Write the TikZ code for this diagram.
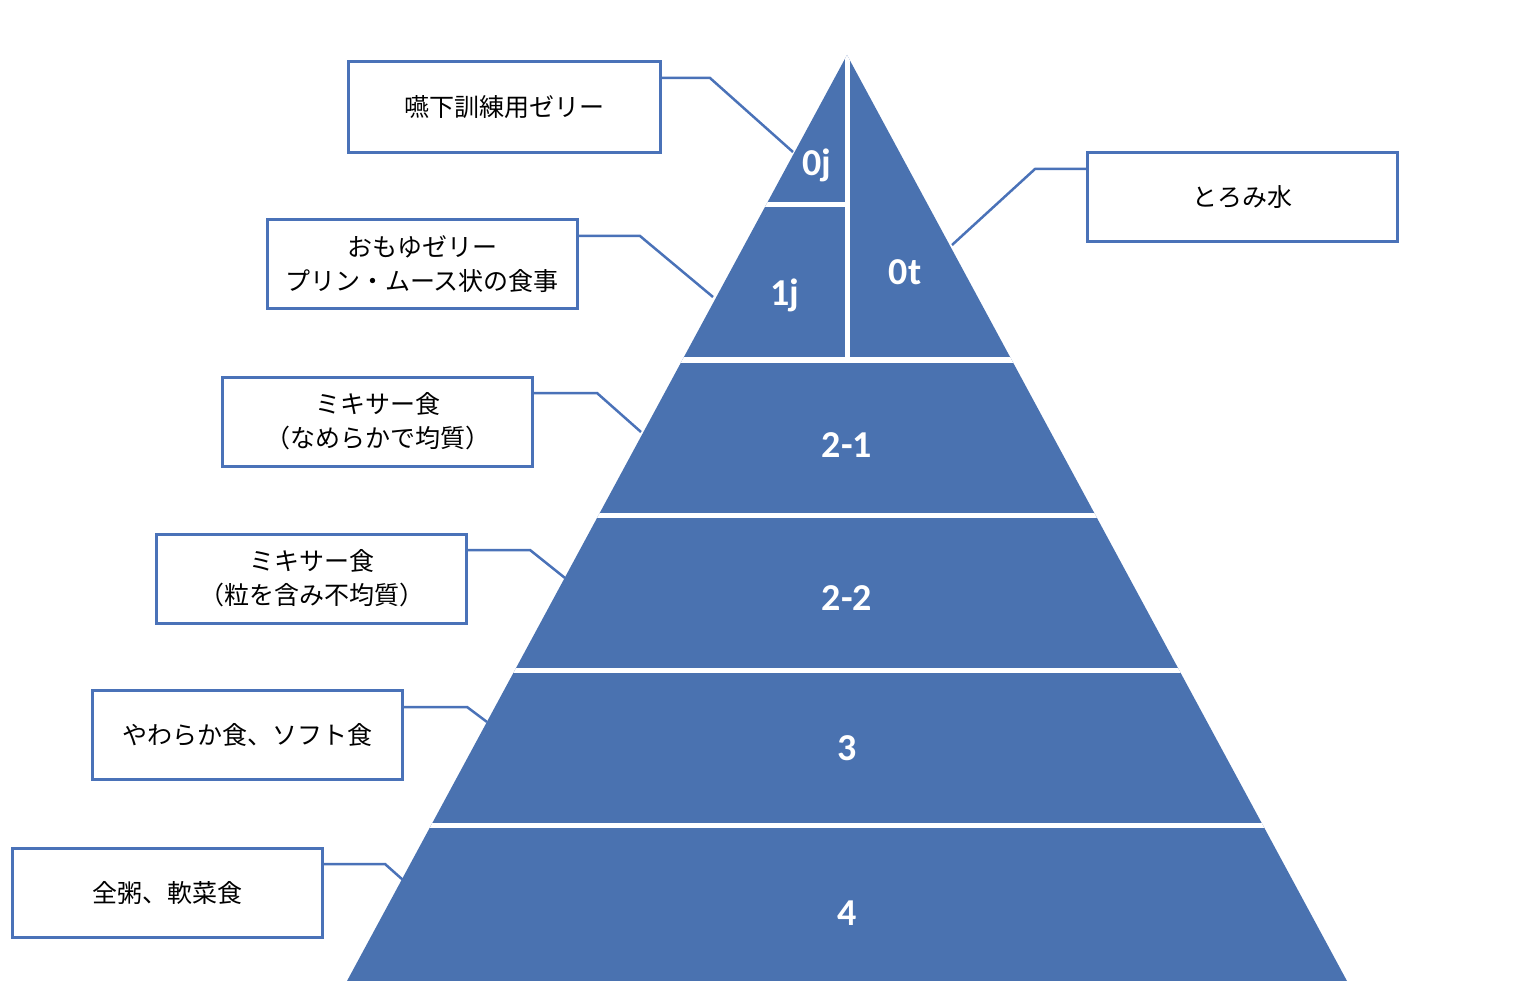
\documentclass[tikz,border=0pt]{standalone}
\usepackage{fontspec}
\newfontfamily\jp{Noto Sans CJK JP}
\newfontfamily\lab{Carlito}
\definecolor{pyr}{HTML}{4A72B0}
\definecolor{bord}{HTML}{4A72B8}
\begin{document}
\begin{tikzpicture}[x=1pt,y=-1pt,
  box/.style={draw=bord,line width=3pt,fill=white,minimum width=310pt,minimum height=89pt,align=center,font=\jp\fontsize{25}{34}\selectfont,inner sep=0pt},
  lbl/.style={text=white,font=\lab\bfseries\fontsize{38}{40}\selectfont},
  conn/.style={draw=bord,line width=2.5pt},
  gap/.style={draw=white,line width=5pt}]
\useasboundingbox (0,0) rectangle (1536,981);
\fill[pyr] (847,55) -- (1347,981) -- (347,981) -- cycle;
\begin{scope}
\clip (847,55) -- (1347,981) -- (347,981) -- cycle;
\foreach \y in {360,515,670,825} \draw[gap] (300,\y) -- (1400,\y);
\draw[gap] (847,40) -- (847,360);
\draw[gap] (700,205) -- (847,205);
\end{scope}
\node[lbl] (l0j) at (817,165) {0j};
\node[lbl] (l1j) at (785,295) {1j};
\node[lbl] (l0t) at (905,272) {0t};
\node[lbl] (l21) at (847,445) {2-1};
\node[lbl] (l22) at (847,598) {2-2};
\node[lbl] (l3) at (847,748) {3};
\node[lbl] (l4) at (847,913) {4};
\node[box,minimum width=312pt,minimum height=91pt] (b1) at (504,107.5) {嚥下訓練用ゼリー};
\node[box] (b2) at (422,264) {おもゆゼリー\\プリン・ムース状の食事};
\node[box] (b3) at (377.5,421.5) {ミキサー食\\（なめらかで均質）};
\node[box] (b4) at (311.5,578.5) {ミキサー食\\（粒を含み不均質）};
\node[box] (b5) at (247.5,735) {やわらか食、ソフト食};
\node[box] (b6) at (167,892.5) {全粥、軟菜食};
\node[box] (b7) at (1242.5,197) {とろみ水};
\coordinate (e1) at (793,152);
\coordinate (e2) at (713,297);
\coordinate (e3) at (641,432);
\coordinate (e4) at (565,578);
\coordinate (e5) at (487,722);
\coordinate (e6) at (403,880);
\coordinate (e7) at (952,245);
\draw[conn] (b1.east|-0,78) -- (710,78) -- (e1);
\draw[conn] (b2.east|-0,236) -- (640,236) -- (e2);
\draw[conn] (b3.east|-0,393) -- (597,393) -- (e3);
\draw[conn] (b4.east|-0,550) -- (530,550) -- (e4);
\draw[conn] (b5.east|-0,707) -- (467,707) -- (e5);
\draw[conn] (b6.east|-0,864) -- (385,864) -- (e6);
\draw[conn] (b7.west|-0,169) -- (1035,169) -- (e7);
\end{tikzpicture}
\end{document}
